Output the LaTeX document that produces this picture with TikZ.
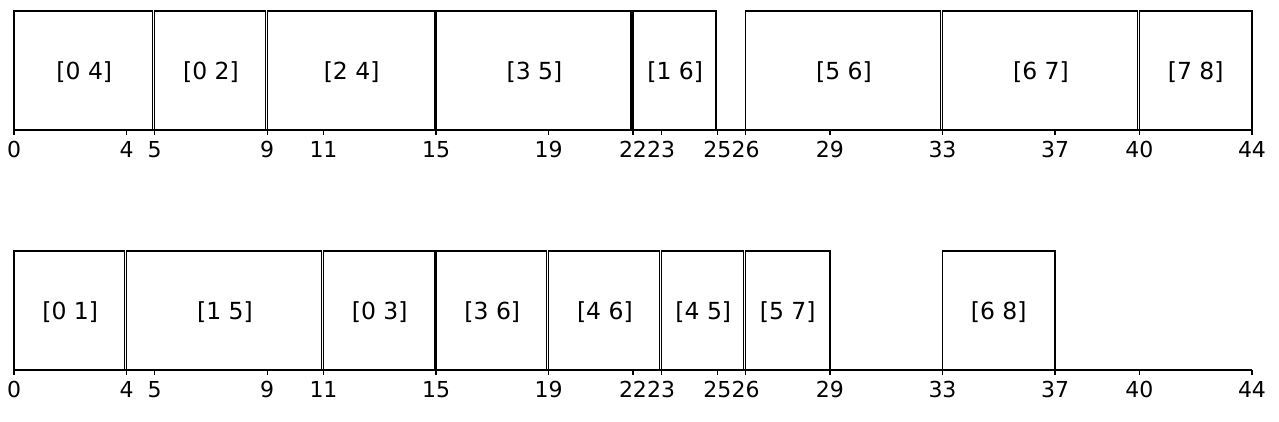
\documentclass[tikz,border=0pt]{standalone}
\usepackage{fontspec}
\setmainfont{DejaVu Sans}

\tikzset{
  job/.style={draw=black, line width=1.1pt},
  joblabel/.style={anchor=base, inner sep=0pt, font=\fontsize{23.5}{28}\selectfont},
  timeaxis/.style={line width=1.1pt},
  ticklabel/.style={anchor=base, inner sep=0pt, font=\fontsize{22}{26}\selectfont},
}

\begin{document}
\begin{tikzpicture}[x=28.136pt, y=-1pt]
\useasboundingbox (-0.4976,0) rectangle (44.96,421);

% upper schedule
\draw [job] (0,11) rectangle (4.93,130);
\node [joblabel] (a1) at (2.5,79.5) {[0 4]};
\draw [job] (5,11) rectangle (8.93,130);
\node [joblabel] (a2) at (7,79.5) {[0 2]};
\draw [job] (9,11) rectangle (14.93,130);
\node [joblabel] (a3) at (12,79.5) {[2 4]};
\draw [job] (15,11) rectangle (21.93,130);
\node [joblabel] (a4) at (18.5,79.5) {[3 5]};
\draw [job] (22,11) rectangle (24.95,130);
\node [joblabel] (a5) at (23.5,79.5) {[1 6]};
\draw [job] (26,11) rectangle (32.93,130);
\node [joblabel] (a6) at (29.5,79.5) {[5 6]};
\draw [job] (33,11) rectangle (39.93,130);
\node [joblabel] (a7) at (36.5,79.5) {[6 7]};
\draw [job] (40,11) rectangle (44,130);
\node [joblabel] (a8) at (42,79.5) {[7 8]};

\draw [timeaxis] (0,130) -- (44,130);
\foreach \t in {0,4,5,9,11,15,19,22,23,25,26,29,33,37,40,44} {
  \draw [timeaxis] (\t,130) -- (\t,134.5);
  \node [ticklabel] (ta\t) at (\t,157.5) {\t};
}

% lower schedule
\draw [job] (0,251) rectangle (3.92,370);
\node [joblabel] (b1) at (2,319.5) {[0 1]};
\draw [job] (4,251) rectangle (10.93,370);
\node [joblabel] (b2) at (7.5,319.5) {[1 5]};
\draw [job] (11,251) rectangle (14.93,370);
\node [joblabel] (b3) at (13,319.5) {[0 3]};
\draw [job] (15,251) rectangle (18.93,370);
\node [joblabel] (b4) at (17,319.5) {[3 6]};
\draw [job] (19,251) rectangle (22.93,370);
\node [joblabel] (b5) at (21,319.5) {[4 6]};
\draw [job] (23,251) rectangle (25.93,370);
\node [joblabel] (b6) at (24.5,319.5) {[4 5]};
\draw [job] (26,251) rectangle (29,370);
\node [joblabel] (b7) at (27.5,319.5) {[5 7]};
\draw [job] (33,251) rectangle (37,370);
\node [joblabel] (b8) at (35,319.5) {[6 8]};

\draw [timeaxis] (0,370) -- (44,370);
\foreach \t in {0,4,5,9,11,15,19,22,23,25,26,29,33,37,40,44} {
  \draw [timeaxis] (\t,370) -- (\t,374.5);
  \node [ticklabel] (tb\t) at (\t,397.5) {\t};
}
\end{tikzpicture}
\end{document}
